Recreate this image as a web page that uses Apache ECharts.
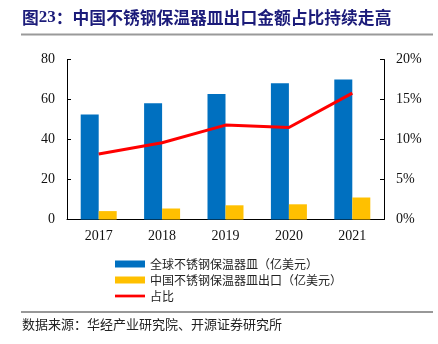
<!DOCTYPE html>
<html>
<head>
<meta charset="utf-8">
<script src="https://cdn.jsdelivr.net/npm/echarts@6/dist/echarts.min.js"></script>
<style>
html,body{margin:0;padding:0;background:#fff;}
#c{width:438px;height:344px;}
</style>
</head>
<body>
<div id="c"></div>
<script>
const categories = ['2017', '2018', '2019', '2020', '2021'];
const globalValues = [52.5, 58.1, 62.8, 68.1, 70.0];
const chinaExport = [4.2, 5.5, 7.1, 7.6, 11.0];
const shareValues = [0.082, 0.096, 0.118, 0.115, 0.158];
const leftTicks = [0, 20, 40, 60, 80];
const rightTicks = [0, 0.05, 0.10, 0.15, 0.20];
const seriesNames = ['全球不锈钢保温器皿（亿美元）', '中国不锈钢保温器皿出口（亿美元）', '占比'];

const serif = '"Liberation Serif", "Times New Roman", serif';
const cjk = '"Noto Sans CJK SC", sans-serif';

const chart = echarts.init(document.getElementById('c'), null, {renderer: 'canvas'});
chart.setOption({
  animation: false,
  backgroundColor: '#fff',
  grid: {left: 67, right: 54, top: 59.5, bottom: 124.5, containLabel: false},
  legend: {
    orient: 'vertical',
    left: 115,
    top: 258,
    padding: 0,
    itemWidth: 30,
    itemHeight: 7,
    itemGap: 4,
    symbolKeepAspect: true,
    textStyle: {fontFamily: cjk, fontSize: 12, color: '#222'},
    data: [
      {name: seriesNames[0], icon: 'rect'},
      {name: seriesNames[1], icon: 'rect'},
      {name: seriesNames[2], icon: 'path://M0,0 L33,0 L33,3 L0,3 Z'}
    ]
  },
  xAxis: {
    type: 'category',
    data: categories,
    axisLine: {lineStyle: {color: '#000', width: 1}},
    axisTick: {inside: true, length: 4, lineStyle: {color: '#000'}},
    axisLabel: {fontFamily: serif, fontSize: 14, color: '#111', margin: 10}
  },
  yAxis: [
    {
      type: 'value', min: leftTicks[0], max: leftTicks[leftTicks.length - 1], interval: 20,
      axisLine: {show: true, lineStyle: {color: '#000'}},
      axisTick: {show: true, inside: true, length: 4, lineStyle: {color: '#000'}},
      splitLine: {show: false},
      axisLabel: {fontFamily: serif, fontSize: 14, color: '#111', margin: 12}
    },
    {
      type: 'value', min: rightTicks[0], max: rightTicks[rightTicks.length - 1], interval: 0.05,
      axisLine: {show: true, lineStyle: {color: '#000'}},
      axisTick: {show: true, inside: true, length: 4, lineStyle: {color: '#000'}},
      splitLine: {show: false},
      axisLabel: {fontFamily: serif, fontSize: 14, color: '#111', margin: 12,
        formatter: v => Math.round(v * 100) + '%'}
    }
  ],
  series: [
    {name: seriesNames[0], type: 'bar', data: globalValues, barWidth: 18, barGap: '0%',
      itemStyle: {color: '#0070C0'}},
    {name: seriesNames[1], type: 'bar', data: chinaExport, barWidth: 18, barGap: '0%',
      itemStyle: {color: '#FFC000'}},
    {name: seriesNames[2], type: 'line', yAxisIndex: 1, data: shareValues, symbol: 'none',
      lineStyle: {color: '#FF0000', width: 3}, itemStyle: {color: '#FF0000'}}
  ],
  graphic: [
    {type: 'text', left: 22, top: 9, style: {
      rich: {
        a: {fontFamily: cjk, fontWeight: 'bold', fontSize: 16.8, fill: '#1C1C7A'},
        n: {fontFamily: serif, fontWeight: 'bold', fontSize: 17, fill: '#1C1C7A'}
      },
      text: '{a|图}{n|23}{a|：中国不锈钢保温器皿出口金额占比持续走高}'
    }},
    {type: 'rect', shape: {x: 21, y: 33.5, width: 412, height: 2}, style: {fill: '#9a9a9a'}},
    {type: 'rect', shape: {x: 21, y: 311.5, width: 412, height: 1}, style: {fill: '#333'}},
    {type: 'text', left: 22, top: 318, style: {
      text: '数据来源：华经产业研究院、开源证券研究所',
      fontFamily: cjk, fontSize: 13, fill: '#222'
    }}
  ]
});
</script>
</body>
</html>
